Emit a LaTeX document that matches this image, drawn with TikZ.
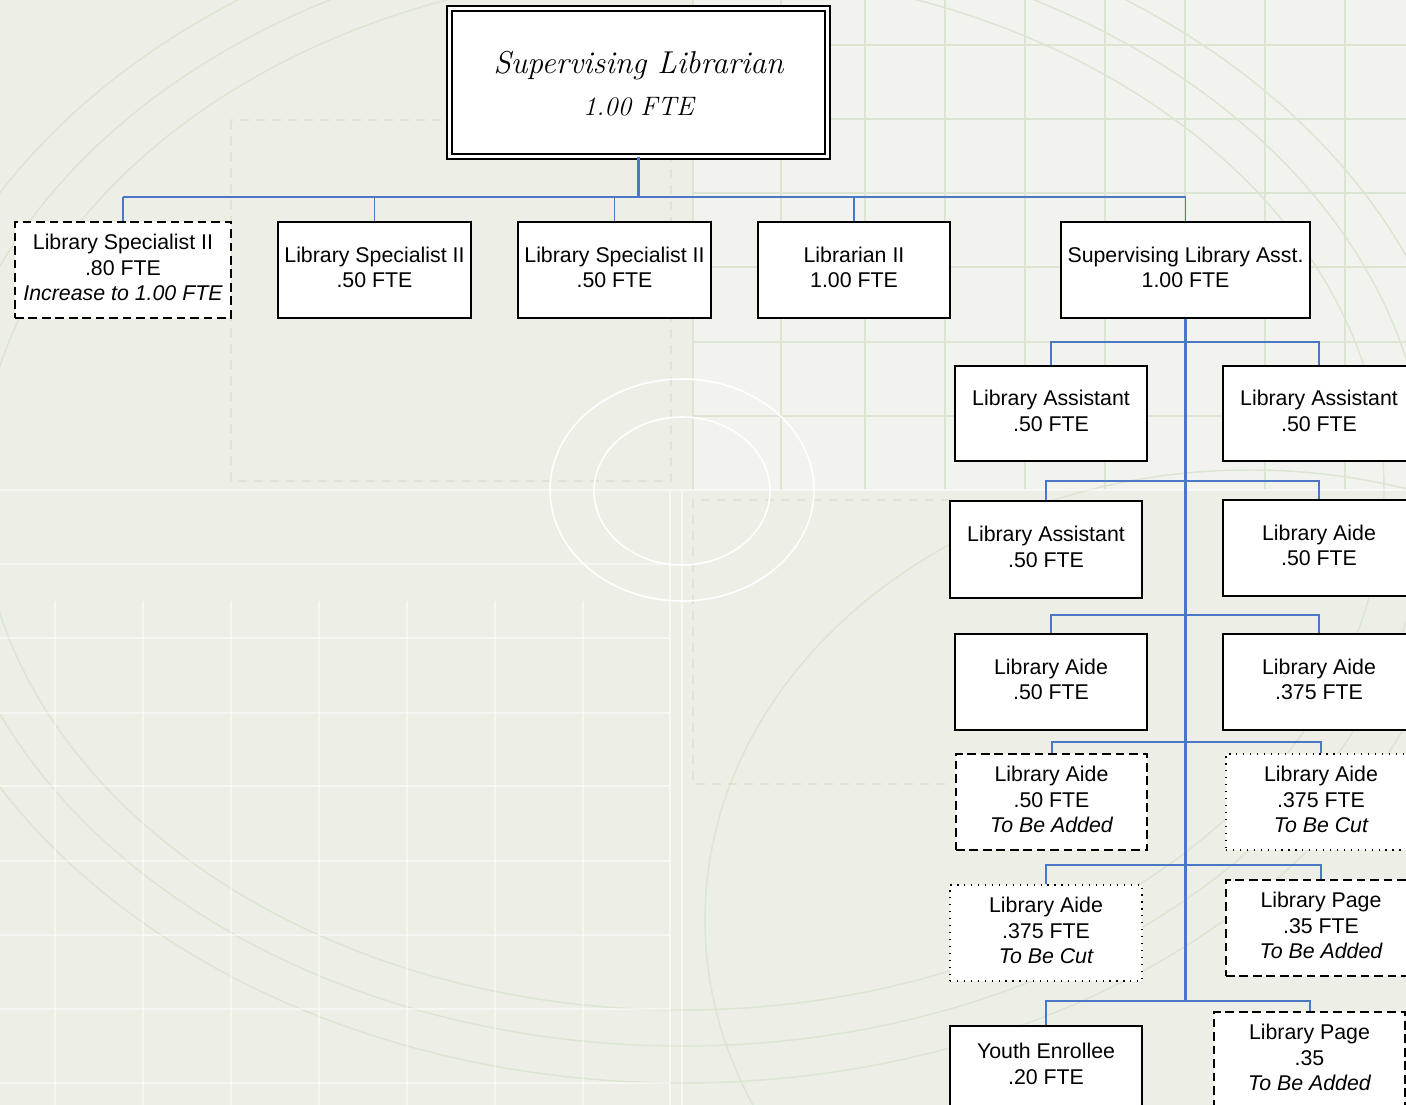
\documentclass[tikz,border=0pt]{standalone}
\usepackage{fontspec}
\setsansfont{Liberation Sans}
\definecolor{paper}{HTML}{EDEFE6}
\definecolor{paperlight}{HTML}{F2F3EE}
\definecolor{guide}{HTML}{DCE5D2}
\definecolor{linkblue}{HTML}{4A78C4}
% centred stack of lines inside a box, with full line struts
\newcommand\boxtext[1]{\begin{tabular}{@{}c@{}}#1\end{tabular}}
\begin{document}
\begin{tikzpicture}[x=0.75pt,y=-0.75pt,
  size/.style 2 args={minimum width=#1*0.75pt, minimum height=#2*0.75pt},
  post/.style={draw=black, fill=white, line width=1.2pt, inner sep=0pt,
    anchor=center, size={192}{96}, font=\sffamily\fontsize{16}{19}\selectfont},
  planned/.style={post, dash pattern=on 6.5pt off 3.6pt},
  cutpost/.style={post, line width=1.1pt, dash pattern=on 0.9pt off 4.3pt},
  chief/.style={draw=black, fill=white, line width=1.3pt, double=white,
    double distance=2.4pt, inner sep=0pt, anchor=center,
    font=\rmfamily\itshape\fontsize{23.7}{32}\selectfont},
  guideline/.style={draw=guide, line width=1.1pt},
  guidedash/.style={draw=guide, line width=1.1pt, dash pattern=on 7pt off 5pt},
  paleline/.style={draw=white, line width=1pt, opacity=0.5},
  link/.style={draw=linkblue, line width=1.5pt},
  drop/.style={draw=linkblue, line width=1.2pt},
  trunk/.style={draw=linkblue, line width=2.2pt}]
\useasboundingbox (0,0) rectangle (1406,1105);
\clip (0,0) rectangle (1406,1105);

% ---- backdrop ----
\fill[paper] (0,0) rectangle (1406,1105);
\fill[paperlight] (693,0) rectangle (1406,490);

% green grid, upper right
\foreach \gx in {693,781,865,945,1025,1105,1185,1265,1345}
  \draw[guideline] (\gx,0) -- (\gx,490);
\foreach \gy in {45,119,193,267,342,416}
  \draw[guideline] (693,\gy) -- (1406,\gy);

% concentric ellipses
\draw[guideline] (682,490) ellipse [x radius=702, y radius=520];
\draw[guideline] (682,490) ellipse [x radius=745, y radius=556];
\draw[guideline] (682,490) ellipse [x radius=788, y radius=593];
\draw[guideline] (1250,920) ellipse [x radius=545, y radius=450];

% dashed frames
\draw[guidedash] (231,120) rectangle (671,481);
\draw[guidedash] (950,500) -- (693,500) -- (693,784) -- (950,784);

% pale grid, lower left
\draw[paleline] (0,490) -- (1406,490);
\draw[paleline] (0,564) -- (670,564);
\foreach \gx in {55,143,231,319,407,495,583}
  \draw[paleline] (\gx,601) -- (\gx,1105);
\foreach \gy in {638,713,786,861,935,1009,1083}
  \draw[paleline] (0,\gy) -- (670,\gy);
\draw[paleline] (670,490) -- (670,1105);
\draw[paleline] (682,490) -- (682,1105);

% white rings
\draw[draw=white, line width=1.2pt] (682,490) ellipse [x radius=132, y radius=111];
\draw[draw=white, line width=1.2pt] (682,491) ellipse [x radius=88, y radius=74];

% ---- positions ----
\node[chief, size={378}{148}] (top) at (638.5,82.5)
  {\boxtext{\rule{0pt}{27.7pt}Supervising Librarian\\{\fontsize{20}{24}\selectfont 1.00 FTE}}};

\node[planned, size={216}{96}] (ls1) at (123,270)
  {\boxtext{Library Specialist II\\.80 FTE\\\itshape Increase to 1.00 FTE}};
\node[post, size={193}{96}] (ls2) at (374.5,270) {\boxtext{Library Specialist II\\.50 FTE}};
\node[post, size={193}{96}] (ls3) at (614.5,270) {\boxtext{Library Specialist II\\.50 FTE}};
\node[post] (lib2) at (854,270) {\boxtext{Librarian II\\1.00 FTE}};
\node[post, size={249}{96}] (sla) at (1185.5,270) {\boxtext{Supervising Library Asst.\\1.00 FTE}};

\node[post, size={192}{95}] (a1) at (1051,413.5) {\boxtext{Library Assistant\\.50 FTE}};
\node[post, size={192}{95}] (a2) at (1319,413.5) {\boxtext{Library Assistant\\.50 FTE}};
\node[post, size={192}{97}] (b1) at (1046,549.5) {\boxtext{Library Assistant\\.50 FTE}};
\node[post] (b2) at (1319,548) {\boxtext{Library Aide\\.50 FTE}};
\node[post] (c1) at (1051,682) {\boxtext{Library Aide\\.50 FTE}};
\node[post] (c2) at (1319,682) {\boxtext{Library Aide\\.375 FTE}};
\node[planned, size={191}{96}] (d1) at (1051.5,802) {\boxtext{Library Aide\\.50 FTE\\\itshape To Be Added}};
\node[cutpost, size={190}{96}] (d2) at (1321,802) {\boxtext{Library Aide\\.375 FTE\\\itshape To Be Cut}};
\node[cutpost] (e1) at (1046,933) {\boxtext{Library Aide\\.375 FTE\\\itshape To Be Cut}};
\node[planned, size={190}{96}] (e2) at (1321,928) {\boxtext{Library Page\\.35 FTE\\\itshape To Be Added}};
\node[post, size={192}{81}] (f1) at (1046,1066.5) {\boxtext{Youth Enrollee\\.20 FTE}};
\node[planned, size={191}{96}] (f2) at (1309.5,1060) {\boxtext{Library Page\\.35\\\itshape To Be Added}};

% ---- connectors ----
\draw[trunk] (top.south) -- (top.south |- 0,197);
\draw[link] (ls1.north |- 0,197) -- (sla.north |- 0,197);
\foreach \child in {ls1,ls2,ls3,lib2,sla}
  \draw[drop] (\child.north |- 0,197) -- (\child.north);

\draw[trunk] (sla.south) -- (sla.south |- 0,1001);
\foreach \lft/\rgt/\by in {a1/a2/342, b1/b2/481, c1/c2/615, d1/d2/742, e1/e2/865, f1/f2/1001}{
  \draw[link] (sla.south |- 0,\by) -| (\lft.north);
  \draw[link] (sla.south |- 0,\by) -| (\rgt.north);
}
\end{tikzpicture}
\end{document}
